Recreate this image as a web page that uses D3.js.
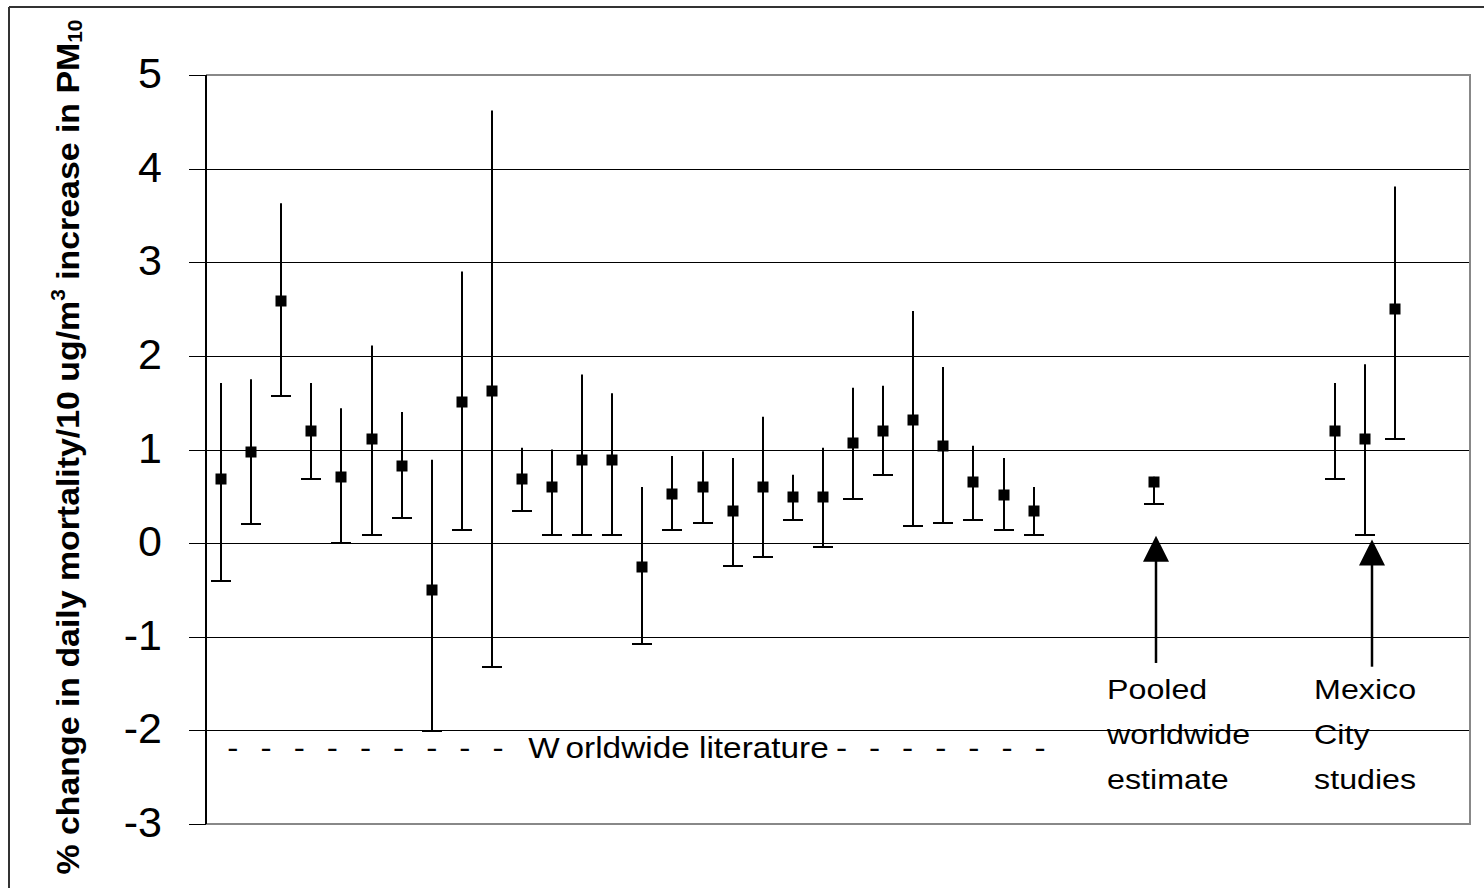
<!DOCTYPE html>
<html>
<head>
<meta charset="utf-8">
<script src="https://cdn.jsdelivr.net/npm/d3@7"></script>
<style>
body { margin: 0; background: #fff; }
svg text { font-family: "Liberation Sans", Arial, sans-serif; }
</style>
</head>
<body>
<div id="chart"></div>
<script>
// slots along the x axis (no labels, just positions)
const allSlots = d3.range(42);
const literatureSlots = [0, 1, 2, 3, 4, 5, 6, 7, 8, 9, 10, 11, 12, 13, 14, 15, 16, 17, 18, 19, 20, 21, 22, 23, 24, 25, 26, 27];
const literatureEst = [0.69, 0.97, 2.59, 1.20, 0.71, 1.11, 0.82, -0.50, 1.51, 1.62, 0.69, 0.60, 0.89, 0.89, -0.26, 0.53, 0.60, 0.34, 0.60, 0.49, 0.49, 1.07, 1.20, 1.31, 1.04, 0.65, 0.51, 0.34];
const literatureLow = [-0.40, 0.20, 1.57, 0.69, 0.00, 0.09, 0.27, -2.01, 0.14, -1.32, 0.34, 0.09, 0.09, 0.09, -1.08, 0.14, 0.22, -0.24, -0.15, 0.25, -0.04, 0.47, 0.73, 0.18, 0.22, 0.25, 0.14, 0.09];
const literatureHigh = [1.71, 1.75, 3.63, 1.71, 1.44, 2.11, 1.40, 0.89, 2.90, 4.62, 1.02, 1.00, 1.80, 1.60, 0.60, 0.93, 0.98, 0.91, 1.35, 0.73, 1.02, 1.66, 1.68, 2.48, 1.88, 1.04, 0.91, 0.60];

const pooledSlots = [31];
const pooledEst = [0.65];
const pooledLow = [0.42];
const pooledHigh = [0.71];

const mexicoSlots = [37, 38, 39];
const mexicoEst = [1.20, 1.11, 2.50];
const mexicoLow = [0.69, 0.09, 1.11];
const mexicoHigh = [1.71, 1.91, 3.81];

const yTicks = [-3, -2, -1, 0, 1, 2, 3, 4, 5];

// annotation arrows (fractional slot position, tip value, tail value)
const arrowPos = [31.57, 38.73];
const arrowTip = [0.08, 0.04];
const arrowTail = [-1.28, -1.32];
const labelPos = [29.94, 36.82];
const labelLines = [["Pooled", "worldwide", "estimate"], ["Mexico", "City", "studies"]];

const W = 1484, H = 888;
const margin = {top: 75, right: 14, bottom: 64, left: 206};
const width = W - margin.left - margin.right;
const height = H - margin.top - margin.bottom;
const stretch = 1.15;

const svg = d3.select("#chart").append("svg")
    .attr("width", W)
    .attr("height", H);

// outer figure frame (top and left only visible)
svg.append("line").attr("x1", 9).attr("x2", W).attr("y1", 7).attr("y2", 7)
    .attr("stroke", "#333").attr("stroke-width", 2);
svg.append("line").attr("x1", 9).attr("x2", 9).attr("y1", 7).attr("y2", H)
    .attr("stroke", "#333").attr("stroke-width", 2);

const g = svg.append("g")
    .attr("transform", "translate(" + margin.left + "," + margin.top + ")");

const x = d3.scaleBand().domain(allSlots).range([0, width]);
const slotPos = d3.scaleLinear().domain([0, allSlots.length]).range([0, width]);
const y = d3.scaleLinear().domain([-3, 5]).range([height, 0]);
const crisp = v => Math.round(v) + 0.5;

// grid lines
g.append("g")
    .selectAll("line")
    .data(yTicks.filter(d => d > -3 && d < 5))
    .enter().append("line")
    .attr("x1", 0).attr("x2", width)
    .attr("y1", d => crisp(y(d))).attr("y2", d => crisp(y(d)))
    .attr("stroke", "#000").attr("stroke-width", 1);

// plot frame: top, right, bottom grey
g.append("path")
    .attr("d", "M0," + y(5) + "H" + width + "V" + Math.round(y(-3)) + "H0")
    .attr("fill", "none").attr("stroke", "#888").attr("stroke-width", 2);

// y axis
const yAxis = g.append("g")
    .call(d3.axisLeft(y).tickValues(yTicks).tickSize(17).tickPadding(27).tickFormat(d => String(d)));
yAxis.select(".domain").remove();
yAxis.selectAll(".tick").attr("transform", d => "translate(0," + crisp(y(d)) + ")");
yAxis.selectAll(".tick line").attr("stroke", "#000").attr("stroke-width", 1);
yAxis.selectAll(".tick text")
    .attr("font-family", "'Liberation Sans', Arial, sans-serif")
    .attr("font-size", 43)
    .attr("dy", "0.29em")
    .attr("fill", "#000");
g.append("line").attr("x1", 0).attr("x2", 0).attr("y1", y(5)).attr("y2", y(-3))
    .attr("stroke", "#000").attr("stroke-width", 2);

function drawSeries(slots, est, low, high) {
    const rows = slots.map((s, i) => ({slot: s, est: est[i], low: low[i], high: high[i]}));
    const cx = d => Math.round(x(d.slot) + x.bandwidth() / 2);
    const grp = g.append("g");
    grp.selectAll(".bar").data(rows).enter().append("line")
        .attr("x1", cx).attr("x2", cx)
        .attr("y1", d => y(d.high)).attr("y2", d => y(d.low))
        .attr("stroke", "#000").attr("stroke-width", 2);
    grp.selectAll(".cap").data(rows).enter().append("line")
        .attr("x1", d => cx(d) - 10).attr("x2", d => cx(d) + 10)
        .attr("y1", d => Math.round(y(d.low))).attr("y2", d => Math.round(y(d.low)))
        .attr("stroke", "#000").attr("stroke-width", 2);
    grp.selectAll("rect").data(rows).enter().append("rect")
        .attr("x", d => cx(d) - 5.5).attr("y", d => Math.round(y(d.est)) - 5.5)
        .attr("width", 11).attr("height", 11)
        .attr("fill", "#000");
}

drawSeries(literatureSlots, literatureEst, literatureLow, literatureHigh);
drawSeries(pooledSlots, pooledEst, pooledLow, pooledHigh);
drawSeries(mexicoSlots, mexicoEst, mexicoLow, mexicoHigh);

// arrows
arrowPos.forEach((p, i) => {
    const ax = Math.round(slotPos(p));
    const tip = y(arrowTip[i]);
    g.append("line")
        .attr("x1", ax).attr("x2", ax)
        .attr("y1", tip + 20).attr("y2", y(arrowTail[i]))
        .attr("stroke", "#000").attr("stroke-width", 2.5);
    g.append("path")
        .attr("d", "M" + ax + "," + tip + "L" + (ax + 13) + "," + (tip + 26) + "L" + (ax - 13) + "," + (tip + 26) + "Z")
        .attr("fill", "#000");
});

// arrow labels
labelPos.forEach((p, i) => {
    const t = g.append("text")
        .attr("transform", "translate(" + slotPos(p) + "," + y(-1.66) + ") scale(" + stretch + ",1)")
        .attr("font-size", 28)
        .attr("fill", "#000");
    labelLines[i].forEach((line, j) => {
        t.append("tspan").attr("x", 0).attr("y", j * 45).text(line);
    });
});

// "Worldwide literature" band label
const wlY = y(-2.30);
function dashText(from, to, n) {
    const str = d3.range(n).map(() => "-").join("   ");
    g.append("text")
        .attr("transform", "translate(" + slotPos(from) + "," + wlY + ") scale(" + stretch + ",1)")
        .attr("font-size", 29)
        .attr("textLength", (slotPos(to) - slotPos(from)) / stretch)
        .attr("lengthAdjust", "spacing")
        .text(str);
}
dashText(0.71, 9.89, 9);
dashText(20.93, 27.9, 7);
const wl = g.append("text")
    .attr("transform", "translate(" + slotPos(10.71) + "," + wlY + ") scale(" + stretch + ",1)")
    .attr("font-size", 29);
wl.append("tspan").text("W");
wl.append("tspan").attr("dx", 5).text("orldwide literature");

// y axis title
const title = svg.append("text")
    .attr("transform", "translate(79,447) rotate(-90) scale(1," + stretch + ")")
    .attr("text-anchor", "middle")
    .attr("font-size", 27.5)
    .attr("font-weight", "bold")
    .attr("textLength", 855)
    .attr("lengthAdjust", "spacingAndGlyphs");
title.append("tspan").text("% change in daily mortality/10 ug/m");
title.append("tspan").attr("font-size", 17).attr("dy", -12).text("3");
title.append("tspan").attr("dy", 12).text(" increase in PM");
title.append("tspan").attr("font-size", 17).attr("dy", 3).text("10");
</script>
</body>
</html>
